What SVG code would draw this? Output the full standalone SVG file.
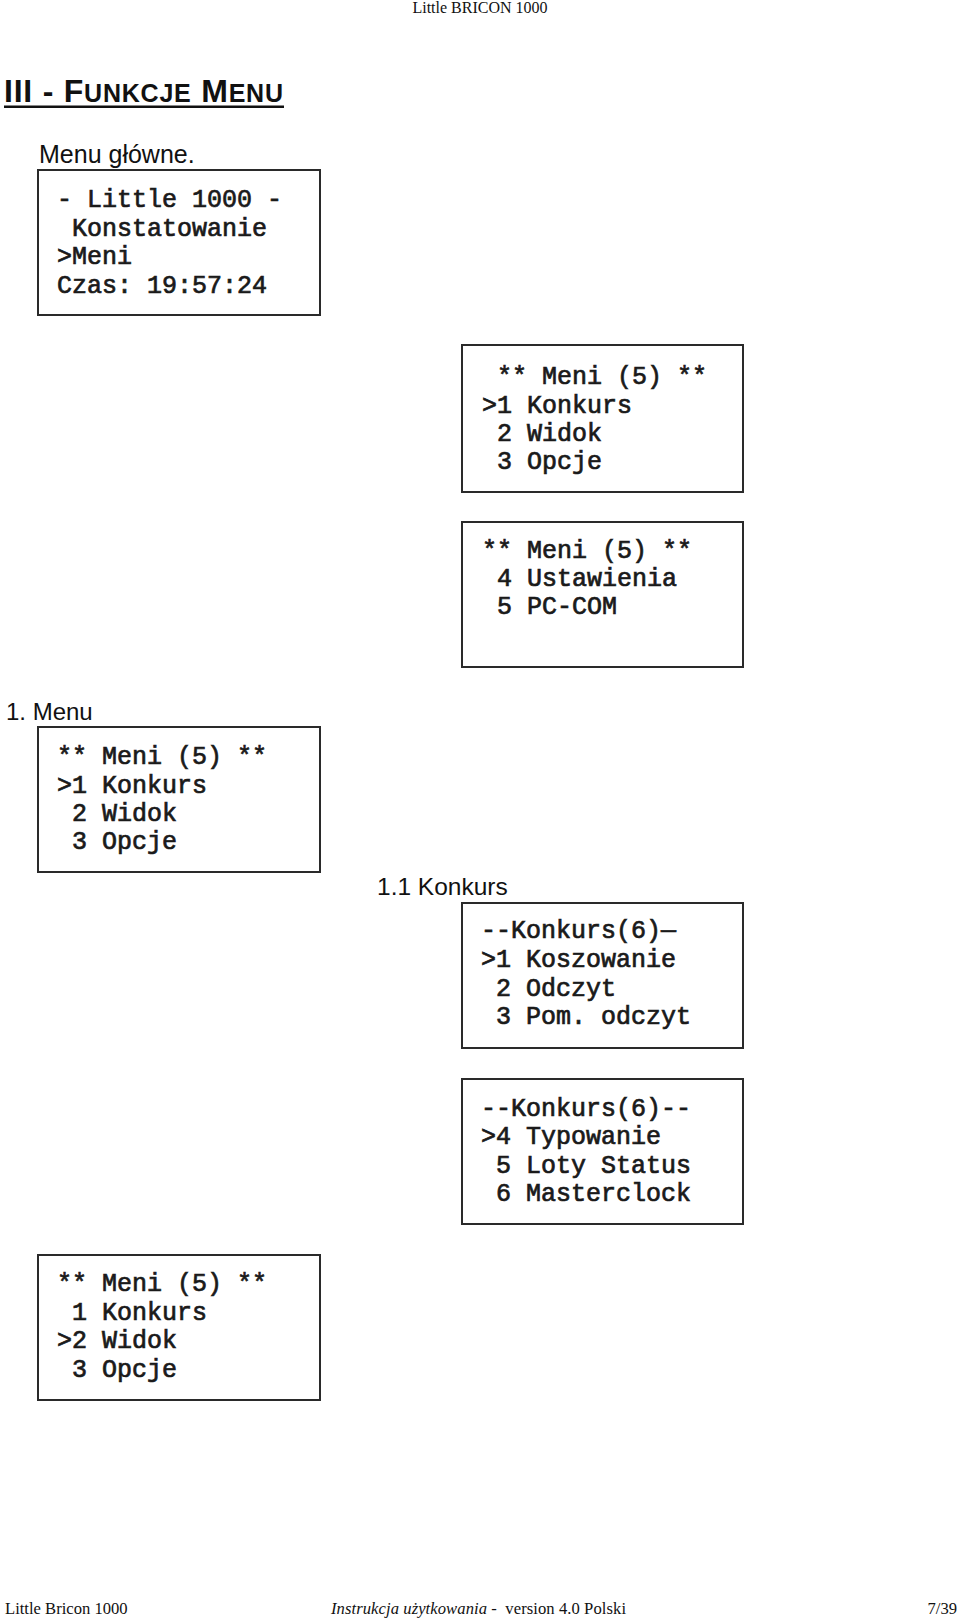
<svg xmlns="http://www.w3.org/2000/svg" width="960" height="1622" viewBox="0 0 960 1622">
<style>
.bg{fill:#ffffff}
.box{fill:none;stroke:#2a2a2a;stroke-width:2}
.mono{font-family:"Liberation Mono","Courier New",monospace;font-size:25px;fill:#1a1a1a;stroke:#1a1a1a;stroke-width:0.7;white-space:pre}
.lbl{font-family:"Liberation Sans",Arial,sans-serif;fill:#111}
.serif{font-family:"Liberation Serif","Times New Roman",serif;fill:#111;white-space:pre}
</style>
<rect class="bg" x="0" y="0" width="960" height="1622"/>
<g id="header">
<text class="serif" x="480" y="13" font-size="16" text-anchor="middle">Little BRICON 1000</text>
</g>
<g id="title">
<text class="lbl" x="4" y="102" font-weight="bold" font-size="32" textLength="279" lengthAdjust="spacing">III - F<tspan font-size="25">UNKCJE</tspan> M<tspan font-size="25">ENU</tspan></text>
<rect x="4" y="105.5" width="280" height="2.5" fill="#111"/>
</g>
<g id="label-menu-glowne">
<text class="lbl" x="39" y="163" font-size="25">Menu główne.</text>
</g>
<g id="box-main">
<rect class="box" x="38" y="170" width="282" height="145"/>
<text class="mono" x="57" y="207">- Little 1000 -</text>
<text class="mono" x="72" y="236">Konstatowanie</text>
<text class="mono" x="57" y="264">&gt;Meni</text>
<text class="mono" x="57" y="293">Czas: 19:57:24</text>
</g>
<g id="box-meni-1">
<rect class="box" x="462" y="345" width="281" height="147"/>
<text class="mono" x="497" y="384">** Meni (5) **</text>
<text class="mono" x="482" y="413">&gt;1 Konkurs</text>
<text class="mono" x="497" y="441">2 Widok</text>
<text class="mono" x="497" y="469">3 Opcje</text>
</g>
<g id="box-meni-2">
<rect class="box" x="462" y="522" width="281" height="145"/>
<text class="mono" x="482" y="558">** Meni (5) **</text>
<text class="mono" x="497" y="586">4 Ustawienia</text>
<text class="mono" x="497" y="614">5 PC-COM</text>
</g>
<g id="label-1-menu">
<text class="lbl" x="6" y="720" font-size="24">1. Menu</text>
</g>
<g id="box-menu-konkurs">
<rect class="box" x="38" y="727" width="282" height="145"/>
<text class="mono" x="57" y="764">** Meni (5) **</text>
<text class="mono" x="57" y="793">&gt;1 Konkurs</text>
<text class="mono" x="72" y="821">2 Widok</text>
<text class="mono" x="72" y="849">3 Opcje</text>
</g>
<g id="label-1-1-konkurs">
<text class="lbl" x="377" y="895" font-size="24.5">1.1 Konkurs</text>
</g>
<g id="box-konkurs-1">
<rect class="box" x="462" y="903" width="281" height="145"/>
<text class="mono" x="481" y="938">--Konkurs(6)—</text>
<text class="mono" x="481" y="967">&gt;1 Koszowanie</text>
<text class="mono" x="496" y="996">2 Odczyt</text>
<text class="mono" x="496" y="1024">3 Pom. odczyt</text>
</g>
<g id="box-konkurs-2">
<rect class="box" x="462" y="1079" width="281" height="145"/>
<text class="mono" x="481" y="1116">--Konkurs(6)--</text>
<text class="mono" x="481" y="1144">&gt;4 Typowanie</text>
<text class="mono" x="496" y="1173">5 Loty Status</text>
<text class="mono" x="496" y="1201">6 Masterclock</text>
</g>
<g id="box-menu-widok">
<rect class="box" x="38" y="1255" width="282" height="145"/>
<text class="mono" x="57" y="1291">** Meni (5) **</text>
<text class="mono" x="72" y="1320">1 Konkurs</text>
<text class="mono" x="57" y="1348">&gt;2 Widok</text>
<text class="mono" x="72" y="1377">3 Opcje</text>
</g>
<g id="connectors"></g>
<g id="footer">
<text class="serif" x="5" y="1614" font-size="16.6">Little Bricon 1000</text>
<text class="serif" x="331" y="1614" font-size="16.6" textLength="295" lengthAdjust="spacing"><tspan font-style="italic">Instrukcja użytkowania</tspan> -  version 4.0 Polski</text>
<text class="serif" x="957" y="1614" font-size="16.6" text-anchor="end">7/39</text>
</g>
</svg>
